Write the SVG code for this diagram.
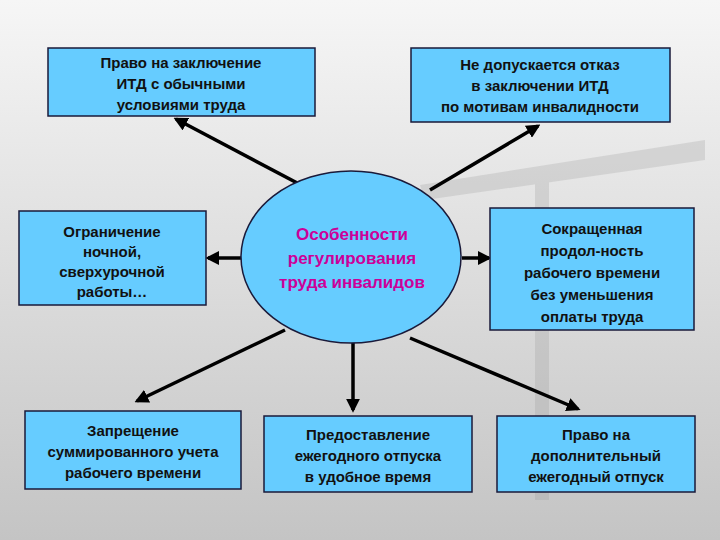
<svg xmlns="http://www.w3.org/2000/svg" width="720" height="540" viewBox="0 0 720 540">
<defs>
<linearGradient id="bg" x1="0" y1="0" x2="0" y2="1"><stop offset="0" stop-color="#f6f6f6"/><stop offset="1" stop-color="#c4c4c4"/></linearGradient>
<marker id="ah" viewBox="0 0 10 10" refX="8" refY="5" markerWidth="4" markerHeight="4" orient="auto"><path d="M0,0L10,5L0,10z" fill="#000"/></marker>
<style>
.box{fill:#66ccff;stroke:#1a1a3a;stroke-width:1.5}
.t{font-family:"Liberation Sans",Arial,sans-serif;font-size:15px;font-weight:bold;fill:#111;text-anchor:middle}
.c{font-family:"Liberation Sans",Arial,sans-serif;font-size:17px;font-weight:bold;fill:#cc0099;text-anchor:middle}
.ln{stroke:#000;stroke-width:3.5;fill:none;marker-end:url(#ah)}
</style>
</defs>
<rect width="720" height="540" fill="url(#bg)"/>
<g opacity="0.25" fill="#999">
<path d="M420,185 L705,140 L705,160 L425,200z"/>
<rect x="535" y="170" width="14" height="330"/>
</g>
<g id="connectors">
<line class="ln" x1="320" y1="195" x2="176" y2="119"/>
<line class="ln" x1="430" y1="190" x2="538" y2="126"/>
<line class="ln" x1="256" y1="258" x2="208" y2="258"/>
<line class="ln" x1="462" y1="258" x2="489" y2="258"/>
<line class="ln" x1="285" y1="330" x2="137" y2="401"/>
<line class="ln" x1="353" y1="340" x2="353" y2="410"/>
<line class="ln" x1="410" y1="338" x2="578" y2="409"/>
</g>
<g id="center"><ellipse cx="351" cy="257" rx="110" ry="86" fill="#66ccff" stroke="#1a1a3a" stroke-width="1.5"/>
<text class="c" x="352" y="240">Особенности</text><text class="c" x="352" y="264">регулирования</text><text class="c" x="352" y="288">труда инвалидов</text></g>
<g id="n1"><rect class="box" x="48" y="48" width="267" height="68"/>
<text class="t" x="181" y="68">Право на заключение</text><text class="t" x="181" y="89">ИТД с обычными</text><text class="t" x="181" y="110">условиями труда</text></g>
<g id="n2"><rect class="box" x="411" y="48" width="259" height="74"/>
<text class="t" x="540" y="70">Не допускается отказ</text><text class="t" x="540" y="91">в заключении ИТД</text><text class="t" x="540" y="112">по мотивам инвалидности</text></g>
<g id="n3"><rect class="box" x="19" y="211" width="187" height="94"/>
<text class="t" x="112" y="237">Ограничение</text><text class="t" x="112" y="257">ночной,</text><text class="t" x="112" y="277">сверхурочной</text><text class="t" x="112" y="297">работы…</text></g>
<g id="n4"><rect class="box" x="490" y="208" width="204" height="122"/>
<text class="t" x="592" y="234">Сокращенная</text><text class="t" x="592" y="256">продол-ность</text><text class="t" x="592" y="278">рабочего времени</text><text class="t" x="592" y="300">без уменьшения</text><text class="t" x="592" y="322">оплаты труда</text></g>
<g id="n5"><rect class="box" x="25" y="411" width="216" height="78"/>
<text class="t" x="133" y="436">Запрещение</text><text class="t" x="133" y="457">суммированного учета</text><text class="t" x="133" y="478">рабочего времени</text></g>
<g id="n6"><rect class="box" x="264" y="416" width="208" height="76"/>
<text class="t" x="368" y="440">Предоставление</text><text class="t" x="368" y="461">ежегодного отпуска</text><text class="t" x="368" y="482">в удобное время</text></g>
<g id="n7"><rect class="box" x="497" y="416" width="198" height="76"/>
<text class="t" x="596" y="440">Право на</text><text class="t" x="596" y="461">дополнительный</text><text class="t" x="596" y="482">ежегодный отпуск</text></g>
</svg>
